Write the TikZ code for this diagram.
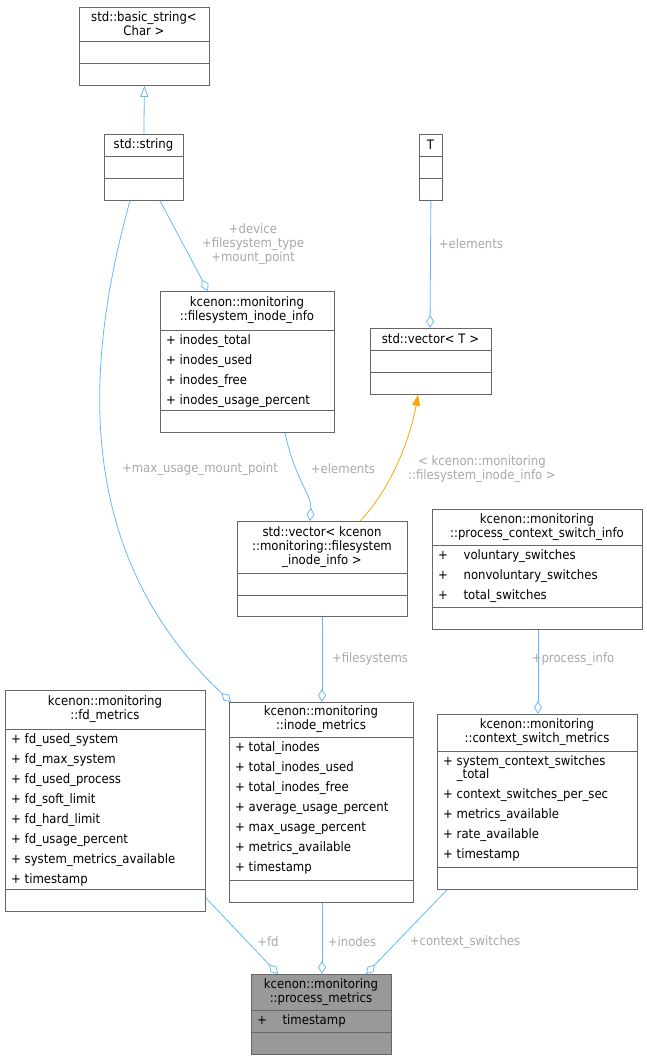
\documentclass[tikz,border=0pt]{standalone}
\usepackage{fontspec}
\setmainfont{DejaVu Sans Condensed}
\usetikzlibrary{arrows.meta}
\definecolor{edgeblue}{HTML}{63B8FF}
\definecolor{edgeorange}{HTML}{FFA500}
\definecolor{labelgray}{HTML}{A8A8A8}
\definecolor{boxgray}{HTML}{999999}
\definecolor{boxline}{HTML}{666666}
\tikzset{
  classbox/.style={draw=boxline, line width=0.8pt, inner sep=0pt, anchor=north west},
  titletext/.style={align=center, inner sep=0pt, font=\fontsize{13}{14}\selectfont},
  attrtext/.style={align=left, inner sep=0pt, anchor=north west, font=\fontsize{13}{20}\selectfont},
  rel/.style={edgeblue, line width=0.8pt},
  agg/.style={rel, -{Diamond[open,length=13pt,width=8pt]}},
  relabel/.style={labelgray, align=center, inner sep=0pt, font=\fontsize{13}{14}\selectfont}
}
% name, left, right, top, first line, second line, bottom, title, attributes
\newcommand\umlclass[9]{%
  \node[classbox, minimum width={(#3-#2)*1pt}, minimum height={(#7-#4)*1pt}] (#1) at (#2,#4) {};
  \draw[boxline, line width=0.8pt] (#2,#5) -- (#3,#5) (#2,#6) -- (#3,#6);
  \node[titletext] (#1-title) at ({(#2+#3)/2},{(#4+#5)/2}) {#8};
  \node[attrtext] (#1-attr) at ({#2+6},{#5+4}) {#9};
}
\begin{document}
\begin{tikzpicture}[x=1pt, y=-1pt]
\useasboundingbox (0,0) rectangle (647,1060);

\fill[boxgray] (251,974) rectangle (391,1054);
\umlclass{basicstring}{79}{209}{7}{41}{63}{85}{std::basic\_string<\\Char >}{}
\umlclass{string}{104}{183}{134}{156}{178}{200}{std::string}{}
\umlclass{tparam}{419}{442}{134}{156}{178}{200}{T}{}
\umlclass{fsinode}{160}{334}{291}{330}{410}{432}{kcenon::monitoring\\::filesystem\_inode\_info}
  {+ inodes\_total\\+ inodes\_used\\+ inodes\_free\\+ inodes\_usage\_percent}
\umlclass{vectort}{370}{491}{328}{350}{372}{394}{std::vector< T >}{}
\umlclass{vectorfs}{237}{407}{521}{573}{595}{616}{std::vector< kcenon\\::monitoring::filesystem\\\_inode\_info >}{}
\umlclass{ctxinfo}{432}{642}{509}{545}{607}{629}{kcenon::monitoring\\::process\_context\_switch\_info}
  {+\hspace{1.2em}voluntary\_switches\\+\hspace{1.2em}nonvoluntary\_switches\\+\hspace{1.2em}total\_switches}
\umlclass{fdmetrics}{5}{205}{690}{729}{889}{911}{kcenon::monitoring\\::fd\_metrics}
  {+ fd\_used\_system\\+ fd\_max\_system\\+ fd\_used\_process\\+ fd\_soft\_limit\\+ fd\_hard\_limit\\+ fd\_usage\_percent\\+ system\_metrics\_available\\+ timestamp}
\umlclass{inodemetrics}{229}{413}{702}{737}{880}{902}{kcenon::monitoring\\::inode\_metrics}
  {+ total\_inodes\\+ total\_inodes\_used\\+ total\_inodes\_free\\+ average\_usage\_percent\\+ max\_usage\_percent\\+ metrics\_available\\+ timestamp}
\umlclass{ctxmetrics}{437}{637}{714}{751}{867}{889}{kcenon::monitoring\\::context\_switch\_metrics}
  {+ system\_context\_switches\\[-7pt]\hspace{1.05em}\_total\\+ context\_switches\_per\_sec\\+ metrics\_available\\+ rate\_available\\+ timestamp}
\umlclass{procmetrics}{251}{391}{974}{1010}{1032}{1054}{kcenon::monitoring\\::process\_metrics}
  {+\hspace{1.2em}timestamp}

% connectors
\draw[rel, -{Triangle[open,length=11pt,width=8pt]}] (string.north) -- (basicstring.south);
\draw[agg] ([xshift=56pt]string.south west) -- ([xshift=48pt]fsinode.north west);
\node[relabel] at (253,244) {+device\\+filesystem\_type\\+mount\_point};
\draw[agg] ([xshift=26pt]string.south west) .. controls (80,380) and (80,560) .. ([xshift=2pt]inodemetrics.north west);
\node[relabel] at (200,469) {+max\_usage\_mount\_point};
\draw[agg] (tparam.south) -- ([xshift=60pt]vectort.north west);
\node[relabel] at (471,244) {+elements};
\draw[agg] ([xshift=125pt]fsinode.south west) .. controls (295,480) and (312,495) .. ([xshift=73pt]vectorfs.north west);
\node[relabel] at (343,469) {+elements};
\draw[edgeorange, line width=0.8pt, -{Triangle[length=11pt,width=8pt]}] ([xshift=123pt]vectorfs.north west) .. controls (390,490) and (410,440) .. ([xshift=48pt]vectort.south west);
\node[relabel] at (482,469) {< kcenon::monitoring\\::filesystem\_inode\_info >};
\draw[agg] ([xshift=85pt]vectorfs.south west) -- ([xshift=93pt]inodemetrics.north west);
\node[relabel] at (370,659) {+filesystems};
\draw[agg] ([xshift=106pt]ctxinfo.south west) -- ([xshift=101pt]ctxmetrics.north west);
\node[relabel] at (573,659) {+process\_info};
\draw[agg] ([yshift=14pt]fdmetrics.south east) -- ([xshift=27pt]procmetrics.north west);
\node[relabel] at (268,942) {+fd};
\draw[agg] ([xshift=93pt]inodemetrics.south west) -- ([xshift=71pt]procmetrics.north west);
\node[relabel] at (352,942) {+inodes};
\draw[agg] ([xshift=10pt]ctxmetrics.south west) -- ([xshift=115pt]procmetrics.north west);
\node[relabel] at (465,942) {+context\_switches};
\end{tikzpicture}
\end{document}
